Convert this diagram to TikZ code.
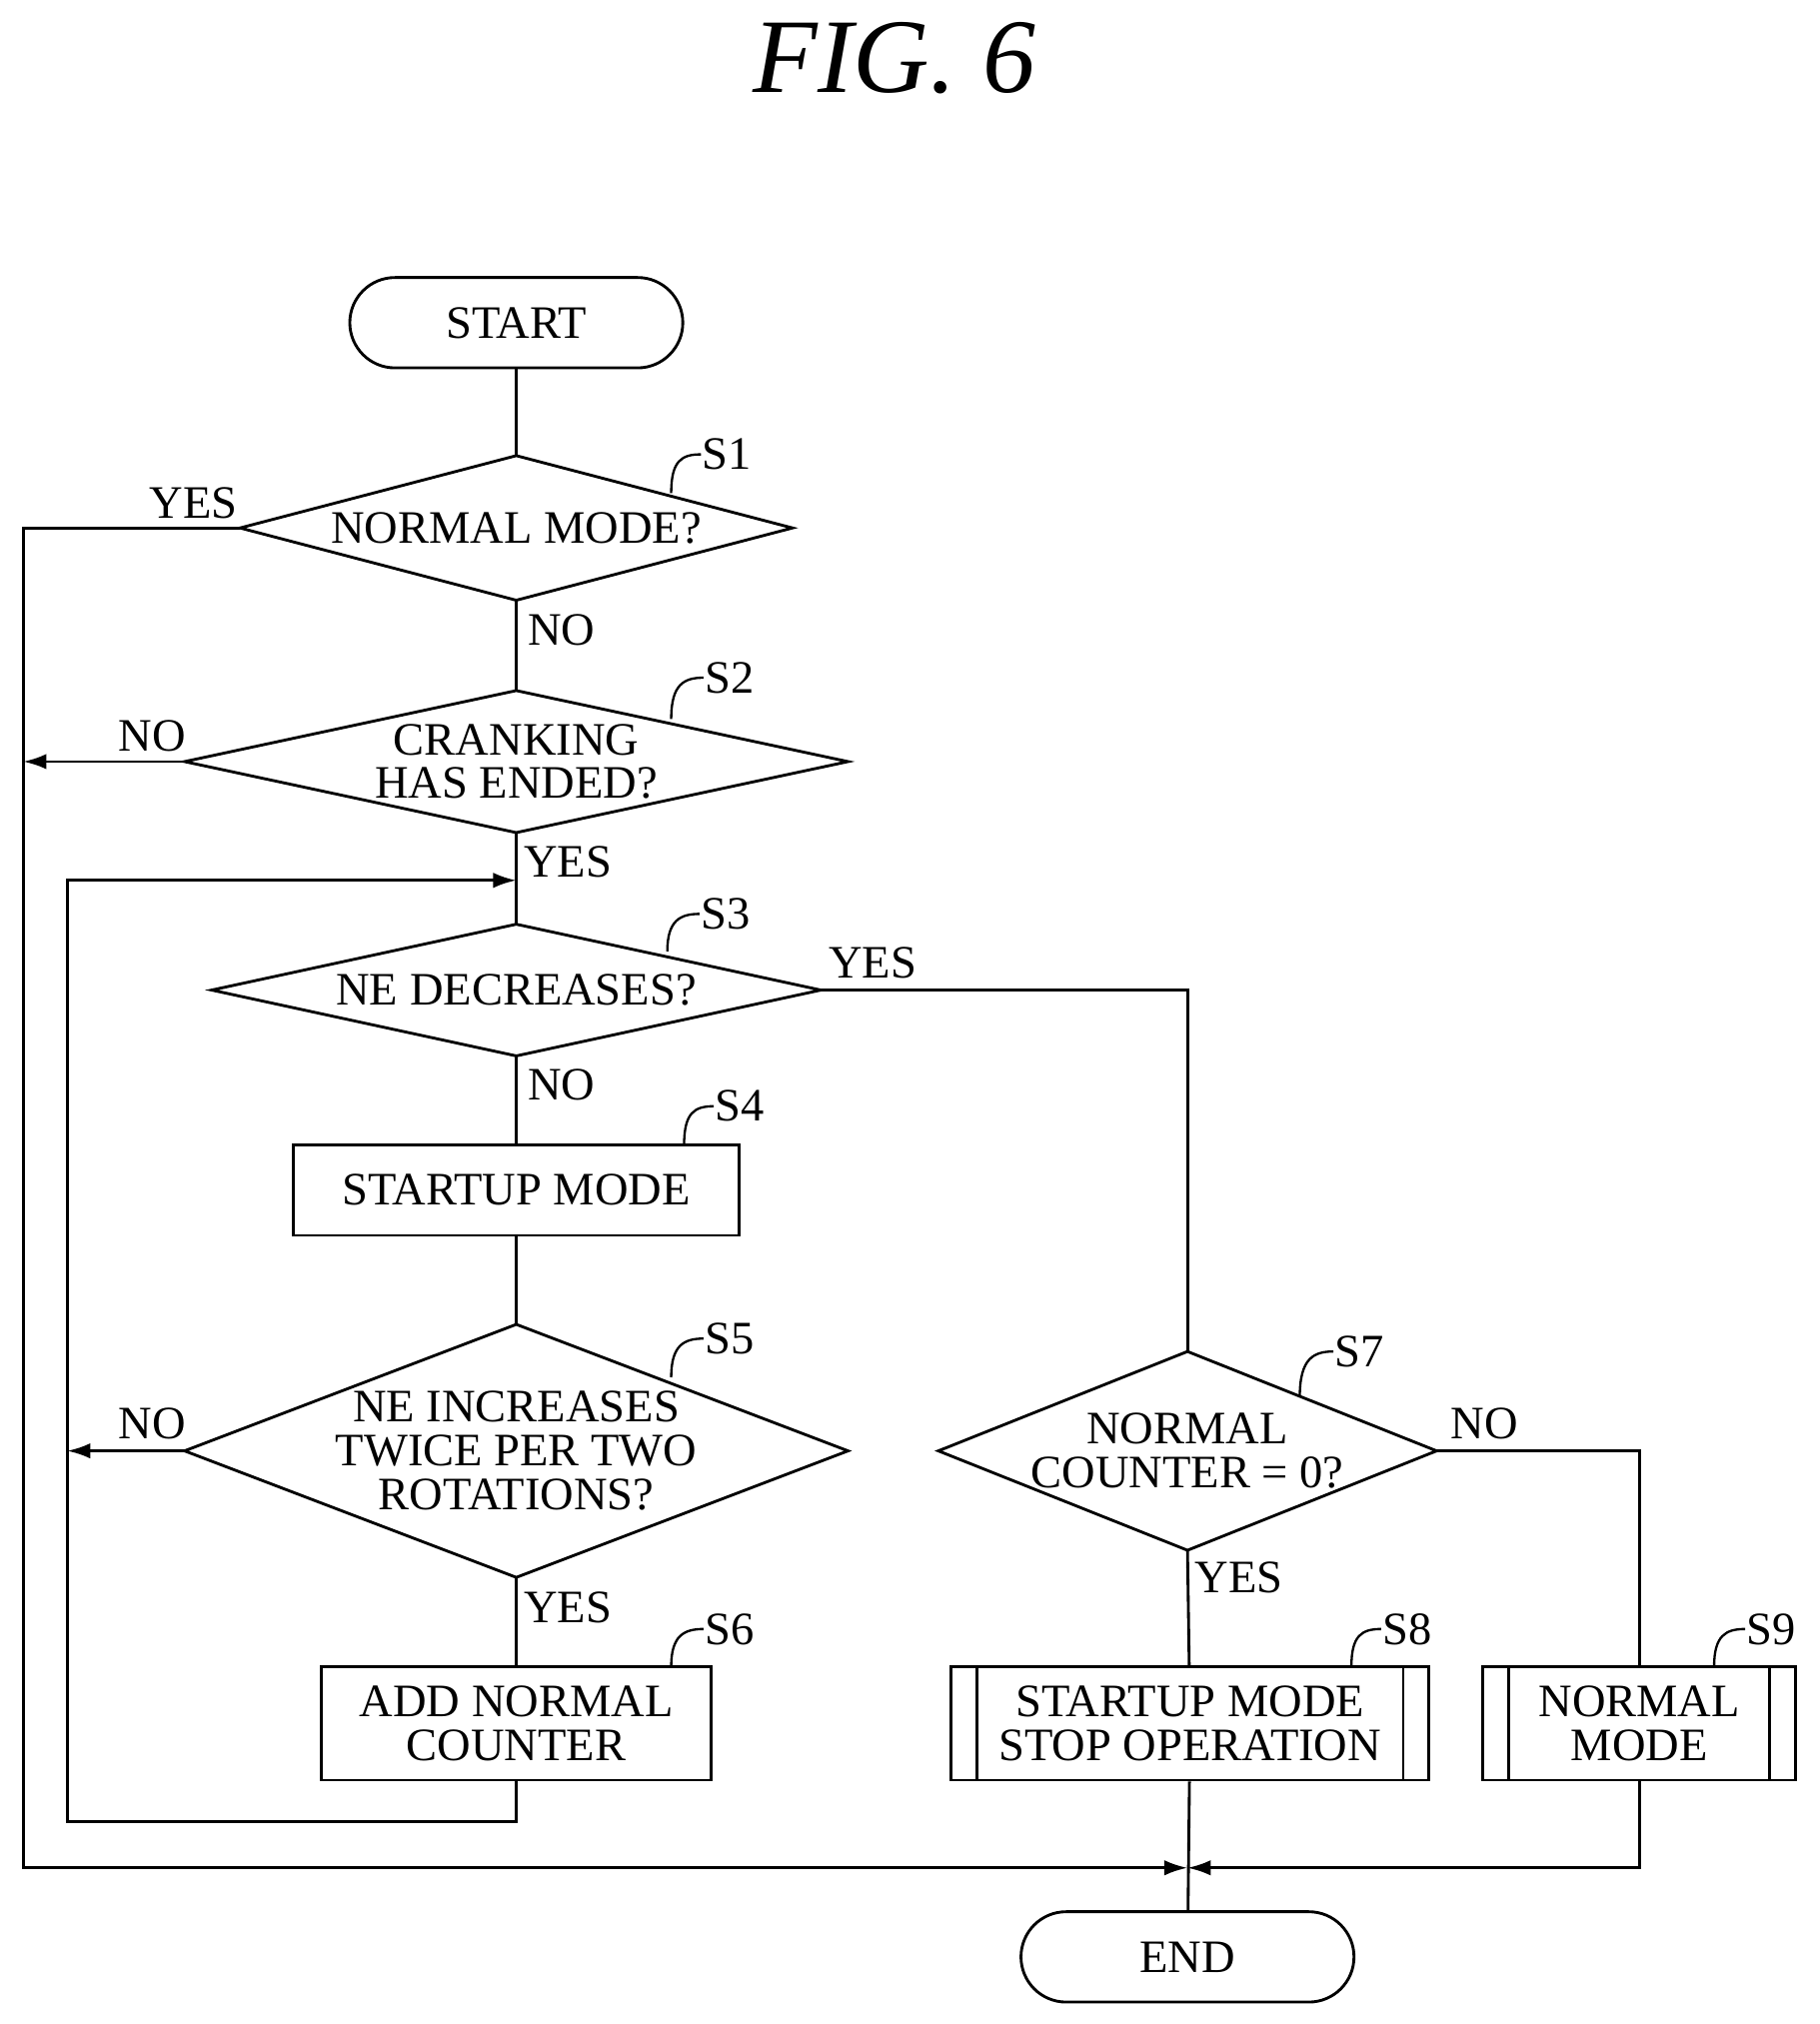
\documentclass[tikz,border=0pt]{standalone}
\usepackage{fontspec}
\setmainfont{Liberation Serif}
\usetikzlibrary{arrows.meta}
\begin{document}
\begin{tikzpicture}[x=0.5pt,y=-0.5pt,line width=1.1pt,
 txt/.style={font=\fontsize{18}{17}\selectfont,align=center,inner sep=0pt},
 lbl/.style={font=\fontsize{18}{18}\selectfont,inner sep=0pt},
 arr/.style={-{Latex[length=9pt,width=6pt]}},
 term/.style={draw,rounded corners=17.5pt,minimum width=129pt,minimum height=35pt,txt},
 box/.style={draw,txt}]
\useasboundingbox (0,0) rectangle (1410,1568);
\node[font=\fontsize{41}{41}\itshape] (title) at (693,45) {FIG. 6};
% diamonds
\newcommand{\dia}[6]{% name cx cy halfw halfh text
 \coordinate (#1) at (#2,#3);
 \coordinate (#1-t) at (#2,#3-#5);\coordinate (#1-b) at (#2,#3+#5);
 \coordinate (#1-l) at (#2-#4,#3);\coordinate (#1-r) at (#2+#4,#3);
 \draw (#1-t)--(#1-r)--(#1-b)--(#1-l)--cycle;
 \node[txt] (#1-txt) at (#2,#3) {#6};}
\node[term] (start) at (400,250) {START};
\dia{s1}{400}{409}{214}{56}{NORMAL MODE?}
\dia{s2}{400}{590}{257}{55}{CRANKING\\HAS ENDED?}
\dia{s3}{400}{767}{236}{51}{NE DECREASES?}
\node[box,minimum width=172.5pt,minimum height=35pt] (s4) at (400,922) {STARTUP MODE};
\dia{s5}{400}{1124}{257}{98}{NE INCREASES\\TWICE PER TWO\\ROTATIONS?}
\node[box,minimum width=151pt,minimum height=44pt] (s6) at (400,1335) {ADD NORMAL\\COUNTER};
\dia{s7}{920}{1124}{193}{77}{NORMAL\\COUNTER = 0?}
\node[box,minimum width=185pt,minimum height=44pt] (s8) at (922,1335) {STARTUP MODE\\STOP OPERATION};
\draw ([xshift=10.5pt]s8.north west)--([xshift=10.5pt]s8.south west) ([xshift=-10.5pt]s8.north east)--([xshift=-10.5pt]s8.south east);
\node[box,minimum width=121pt,minimum height=44pt] (s9) at (1270,1335) {NORMAL\\MODE};
\draw ([xshift=10.5pt]s9.north west)--([xshift=10.5pt]s9.south west) ([xshift=-10.5pt]s9.north east)--([xshift=-10.5pt]s9.south east);
\node[term] (end) at (920,1516) {END};
% merge point
\coordinate (m) at (920,1447);
% connectors
\draw (start)--(s1-t);
\draw (s1-b)--(s2-t);
\draw (s2-b)--(s3-t);
\draw (s3-b)--(s4);
\draw (s4)--(s5-t);
\draw (s5-b)--(s6);
\draw (s7-b)--(s8);
\draw (s8)--(end);
\draw[arr] (s1-l)--(18,409)--(18,1447)--(m);
\draw[arr] (s2-l)--(18,590);
\draw[arr] (s5-l)--(52,1124);
\draw[arr] (s6.south)--(400,1411)--(52,1411)--(52,682)--(400,682);
\draw (s3-r)--(920,767)--(s7-t);
\draw (s7-r)--(1270,1124)--(s9.north);
\draw[arr] (s9.south)--(1270,1447)--(m);
% yes/no labels
\node[lbl] at (150,390) {YES};
\node[lbl] at (435,488) {NO};
\node[lbl] at (118,570) {NO};
\node[lbl] at (440,668) {YES};
\node[lbl] at (676,746) {YES};
\node[lbl] at (435,840) {NO};
\node[lbl] at (118,1103) {NO};
\node[lbl] at (440,1245) {YES};
\node[lbl] at (1150,1103) {NO};
\node[lbl] at (960,1222) {YES};
% step labels
\newcommand{\stp}[5]{\node[lbl,anchor=west] (#1) at (#2,#3) {#1};
 \draw[line width=0.9pt] (#4,#5) .. controls (#4,#3+5) and (#2-15,#3) .. (#2,#3);}
\stp{S1}{543}{352}{520}{382}
\stp{S2}{545}{525}{520}{557}
\stp{S3}{542}{708}{517}{737}
\stp{S4}{553}{857}{530}{887}
\stp{S5}{545}{1037}{520}{1067}
\stp{S6}{545}{1262}{520}{1291}
\stp{S7}{1033}{1047}{1007}{1082}
\stp{S8}{1070}{1262}{1047}{1291}
\stp{S9}{1352}{1262}{1328}{1291}
\end{tikzpicture}
\end{document}
